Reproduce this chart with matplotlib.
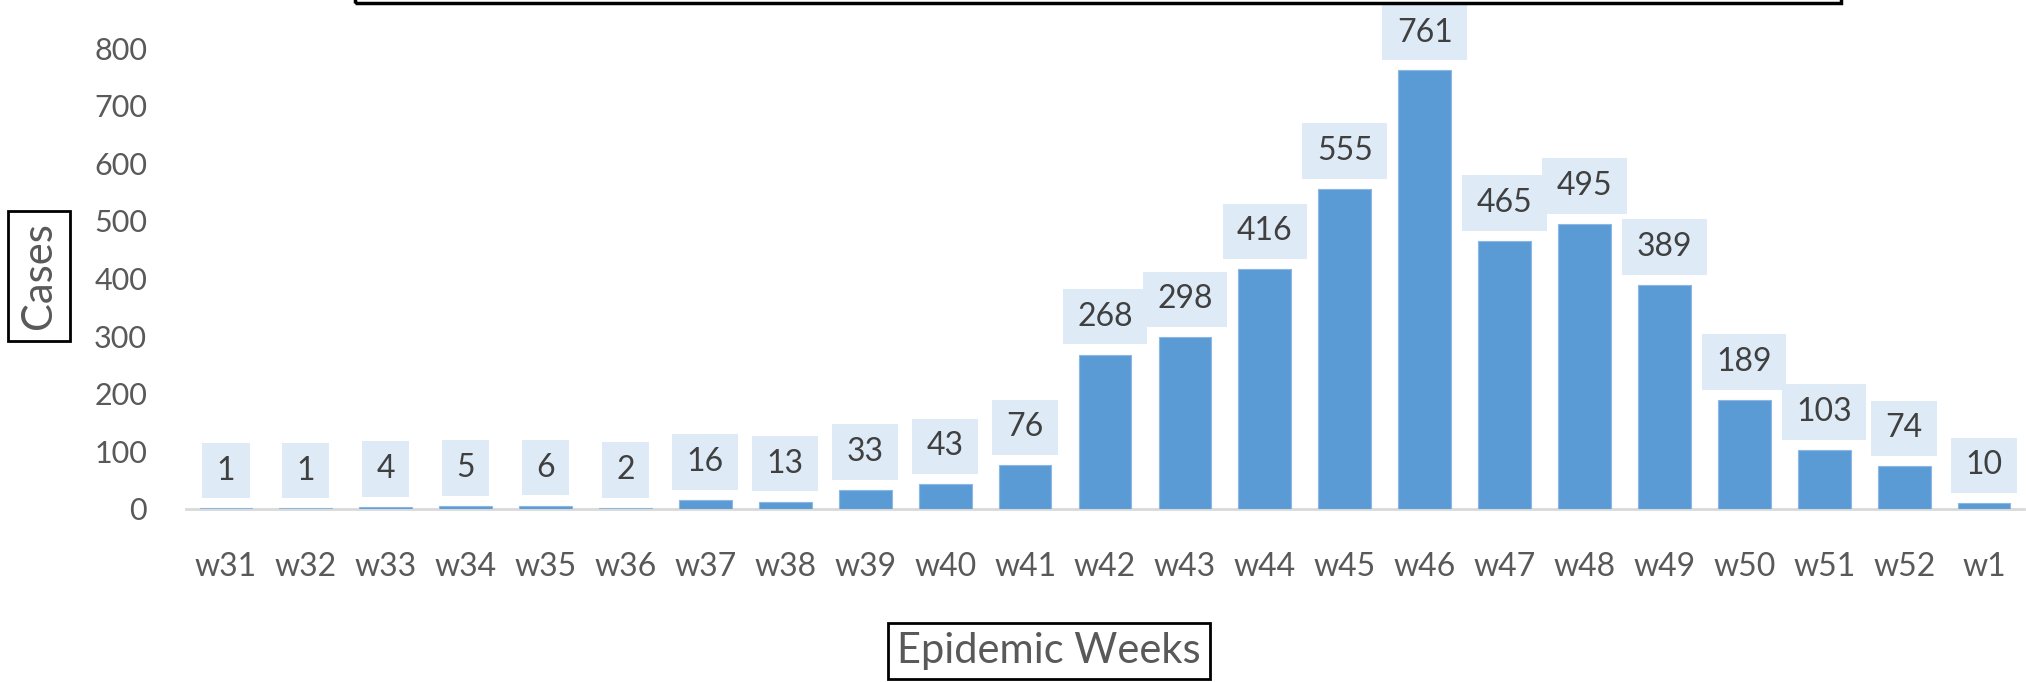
"""Epidemic curve: weekly cases, w31 to w1, Excel-style bar chart with boxed labels."""
import matplotlib
matplotlib.use("Agg")
import matplotlib.pyplot as plt
import matplotlib.patches as mpatches
from matplotlib.path import Path
import numpy as np

WEEKS = ["w31", "w32", "w33", "w34", "w35", "w36", "w37", "w38", "w39", "w40",
         "w41", "w42", "w43", "w44", "w45", "w46", "w47", "w48", "w49", "w50",
         "w51", "w52", "w1"]
CASES = [1, 1, 4, 5, 6, 2, 16, 13, 33, 43,
         76, 268, 298, 416, 555, 761, 465, 495, 389, 189,
         103, 74, 10]
Y_TICKS = [0, 100, 200, 300, 400, 500, 600, 700, 800]

BAR_COLOR = "#5B9BD5"
LABEL_BG = "#DEEBF7"
TEXT_GREY = "#595959"
TEXT_DARK = "#404040"

W, H, DPI = 2026, 682, 100

plt.rcParams.update({
    "font.family": ["Lato", "DejaVu Sans"],
})


def label_box(x0, y0, width, height, mutation_size):
    # Excel data-label box: more padding top/bottom than a plain square pad
    px, py = 0.45 * mutation_size, 0.4 * mutation_size
    x0, y0 = x0 - px, y0 - py
    x1, y1 = x0 + width + 2 * px, y0 + height + 2 * py
    return Path([(x0, y0), (x1, y0), (x1, y1), (x0, y1), (x0, y0)],
                closed=True)


fig = plt.figure(figsize=(W / DPI, H / DPI), dpi=DPI)
# axes placed in pixel terms of the reference
left, right = 186 / W, 2024 / W
bottom, top = (H - 509) / H, (H - 48) / H
ax = fig.add_axes([left, bottom, right - left, top - bottom])

x = np.arange(len(WEEKS))
ax.bar(x, CASES, width=0.66, color=BAR_COLOR, edgecolor="#8DB7E2", linewidth=0.8, zorder=2)

for xi, v in zip(x, CASES):
    ax.annotate(
        f"{v}", (xi, v), xytext=(0, 16.5), textcoords="offset points",
        ha="center", va="bottom", fontsize=23, color=TEXT_DARK,
        bbox=dict(boxstyle=label_box, facecolor=LABEL_BG, edgecolor="none"),
        annotation_clip=False, zorder=3,
    )

ax.set_xlim(-0.5, len(WEEKS) - 0.5)
ax.set_ylim(0, 800)
ax.set_xticks(x)
ax.set_xticklabels(WEEKS)
ax.set_yticks(Y_TICKS)
ax.tick_params(axis="x", length=0, pad=31, labelsize=23, labelcolor=TEXT_GREY)
ax.tick_params(axis="y", length=0, pad=28, labelsize=22, labelcolor=TEXT_GREY)

for side in ("top", "right", "left"):
    ax.spines[side].set_visible(False)
ax.spines["bottom"].set_color("#D9D9D9")
ax.spines["bottom"].set_linewidth(2)
ax.spines["bottom"].set_zorder(1)

fig.text(1049 / W, 1 - 651 / H, "Epidemic Weeks", ha="center", va="center",
         fontsize=30, color=TEXT_GREY,
         bbox=dict(boxstyle="square,pad=0.22", facecolor="white", edgecolor="black", linewidth=2))
fig.text(39 / W, 1 - 276 / H, "Cases", ha="center", va="center", rotation=90,
         fontsize=30, color=TEXT_GREY,
         bbox=dict(boxstyle="square,pad=0.28", facecolor="white", edgecolor="black", linewidth=2))

# bottom edge of a title box that sits above the visible area
fig.patches.append(mpatches.Rectangle(
    (355 / W, 1 - 3 / H), (1841 - 355) / W, 0.2, transform=fig.transFigure,
    facecolor="none", edgecolor="black", linewidth=2.5, clip_on=False))

fig.savefig("out.png", dpi=DPI)
